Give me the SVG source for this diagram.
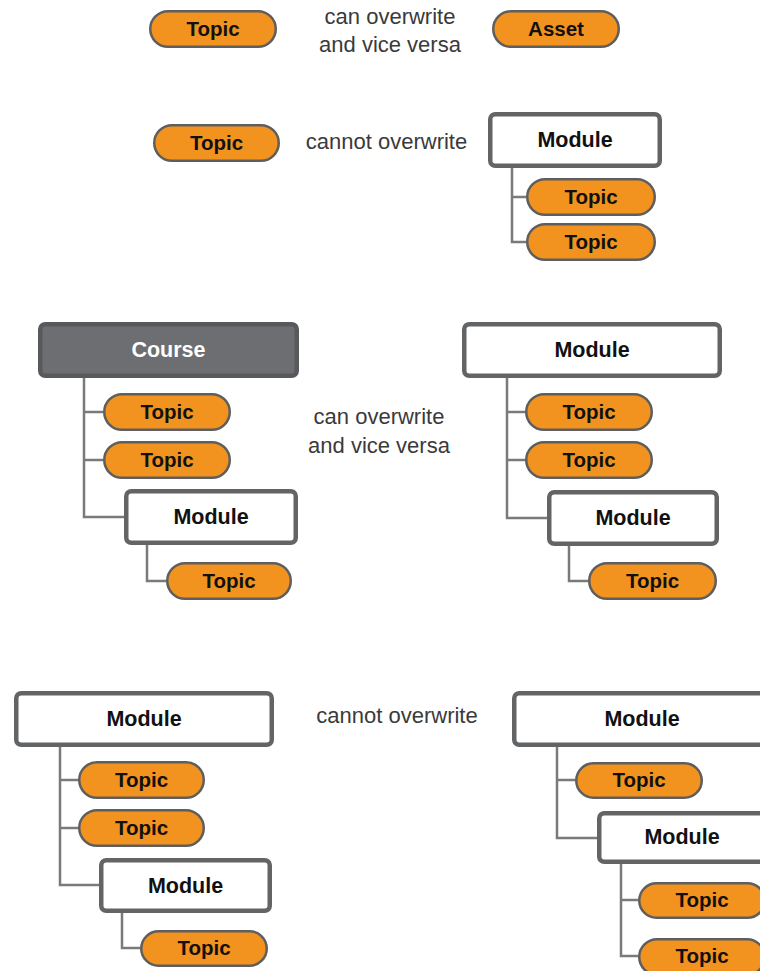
<svg xmlns="http://www.w3.org/2000/svg" width="760" height="971" viewBox="0 0 760 971">
<style>
.pill{fill:#f3931f;stroke:#5e5e5e;stroke-width:2.5}
.mod{fill:#ffffff;stroke:#636466;stroke-width:4.5}
.course{fill:#6d6e71;stroke:#58595b;stroke-width:4.5}
.lbl{font-family:"Liberation Sans",Arial,sans-serif;font-weight:bold;font-size:20.5px;fill:#111;text-anchor:middle}
.mlbl{font-family:"Liberation Sans",Arial,sans-serif;font-weight:bold;font-size:21.5px;fill:#111;text-anchor:middle}
.clbl{font-family:"Liberation Sans",Arial,sans-serif;font-weight:bold;font-size:21.5px;fill:#ffffff;text-anchor:middle}
.note{font-family:"Liberation Sans",Arial,sans-serif;font-size:22px;fill:#3a3a3a;text-anchor:middle}
.conn{fill:none;stroke:#7a7a7a;stroke-width:2.5}
</style>
<rect width="760" height="971" fill="#ffffff"/>
<g id="connectors">
<path class="conn" d="M512 168 V242 H526 M512 197 H526"/>
<path class="conn" d="M84 378 V517 H124 M84 412 H103 M84 460 H103"/>
<path class="conn" d="M147 545 V581 H166"/>
<path class="conn" d="M507 378 V518 H547 M507 412 H525 M507 460 H525"/>
<path class="conn" d="M569 546 V581 H588"/>
<path class="conn" d="M60 747 V885 H99 M60 780 H78 M60 828 H78"/>
<path class="conn" d="M122 913 V948 H140"/>
<path class="conn" d="M557 747 V838 H597 M557 780 H575"/>
<path class="conn" d="M621 864 V956 H638 M621 900 H638"/>
</g>
<g id="notes">
<text class="note" x="390" y="24">can overwrite</text>
<text class="note" x="390" y="52">and vice versa</text>
<text class="note" x="386.5" y="149">cannot overwrite</text>
<text class="note" x="379" y="424">can overwrite</text>
<text class="note" x="379" y="453">and vice versa</text>
<text class="note" x="397" y="723">cannot overwrite</text>
</g>
<g id="r1-topic"><rect class="pill" x="150.25" y="11.25" width="125.5" height="35.5" rx="17.75"/><text class="lbl" x="213" y="36">Topic</text></g>
<g id="r1-asset"><rect class="pill" x="493.25" y="11.25" width="125.5" height="35.5" rx="17.75"/><text class="lbl" x="556" y="36">Asset</text></g>
<g id="r2-topic"><rect class="pill" x="154.25" y="125.25" width="124.5" height="35.5" rx="17.75"/><text class="lbl" x="216.5" y="150">Topic</text></g>
<g id="r2-module"><rect class="mod" x="490.25" y="114.25" width="169.5" height="51.5" rx="5"/><text class="mlbl" x="575" y="147">Module</text></g>
<g id="r2-topic-a"><rect class="pill" x="527.25" y="179.25" width="127.5" height="35.5" rx="17.75"/><text class="lbl" x="591" y="203.5">Topic</text></g>
<g id="r2-topic-b"><rect class="pill" x="527.25" y="224.25" width="127.5" height="35.5" rx="17.75"/><text class="lbl" x="591" y="248.5">Topic</text></g>
<g id="s3l-course"><rect class="course" x="40.25" y="324.25" width="256.5" height="51.5" rx="5"/><text class="clbl" x="168.5" y="357">Course</text></g>
<g id="s3l-topic-a"><rect class="pill" x="104.25" y="394.25" width="125.5" height="35.5" rx="17.75"/><text class="lbl" x="167" y="418.5">Topic</text></g>
<g id="s3l-topic-b"><rect class="pill" x="104.25" y="442.25" width="125.5" height="35.5" rx="17.75"/><text class="lbl" x="167" y="466.5">Topic</text></g>
<g id="s3l-module"><rect class="mod" x="126.25" y="491.25" width="169.5" height="51.5" rx="5"/><text class="mlbl" x="211" y="524">Module</text></g>
<g id="s3l-topic-c"><rect class="pill" x="167.25" y="563.25" width="123.5" height="35.5" rx="17.75"/><text class="lbl" x="229" y="587.5">Topic</text></g>
<g id="s3r-module"><rect class="mod" x="464.25" y="324.25" width="255.5" height="51.5" rx="5"/><text class="mlbl" x="592" y="357">Module</text></g>
<g id="s3r-topic-a"><rect class="pill" x="526.25" y="394.25" width="125.5" height="35.5" rx="17.75"/><text class="lbl" x="589" y="418.5">Topic</text></g>
<g id="s3r-topic-b"><rect class="pill" x="526.25" y="442.25" width="125.5" height="35.5" rx="17.75"/><text class="lbl" x="589" y="466.5">Topic</text></g>
<g id="s3r-module-b"><rect class="mod" x="549.25" y="492.25" width="167.5" height="51.5" rx="5"/><text class="mlbl" x="633" y="525">Module</text></g>
<g id="s3r-topic-c"><rect class="pill" x="589.25" y="563.25" width="126.5" height="35.5" rx="17.75"/><text class="lbl" x="652.5" y="587.5">Topic</text></g>
<g id="s4l-module"><rect class="mod" x="16.25" y="693.25" width="255.5" height="51.5" rx="5"/><text class="mlbl" x="144" y="726">Module</text></g>
<g id="s4l-topic-a"><rect class="pill" x="79.25" y="762.25" width="124.5" height="35.5" rx="17.75"/><text class="lbl" x="141.5" y="786.5">Topic</text></g>
<g id="s4l-topic-b"><rect class="pill" x="79.25" y="810.25" width="124.5" height="35.5" rx="17.75"/><text class="lbl" x="141.5" y="834.5">Topic</text></g>
<g id="s4l-module-b"><rect class="mod" x="101.25" y="860.25" width="168.5" height="50.5" rx="5"/><text class="mlbl" x="185.5" y="892.5">Module</text></g>
<g id="s4l-topic-c"><rect class="pill" x="141.25" y="931.25" width="125.5" height="34.5" rx="17.25"/><text class="lbl" x="204" y="955">Topic</text></g>
<g id="s4r-module"><rect class="mod" x="514.25" y="693.25" width="255.5" height="51.5" rx="5"/><text class="mlbl" x="642" y="726">Module</text></g>
<g id="s4r-topic-a"><rect class="pill" x="576.25" y="763.25" width="125.5" height="34.5" rx="17.25"/><text class="lbl" x="639" y="787">Topic</text></g>
<g id="s4r-module-b"><rect class="mod" x="599.25" y="813.25" width="165.5" height="48.5" rx="5"/><text class="mlbl" x="682" y="844">Module</text></g>
<g id="s4r-topic-b"><rect class="pill" x="639.25" y="883.25" width="125.5" height="34.5" rx="17.25"/><text class="lbl" x="702" y="907">Topic</text></g>
<g id="s4r-topic-c"><rect class="pill" x="639.25" y="939.25" width="125.5" height="35.5" rx="17.75"/><text class="lbl" x="702" y="963">Topic</text></g>
</svg>
